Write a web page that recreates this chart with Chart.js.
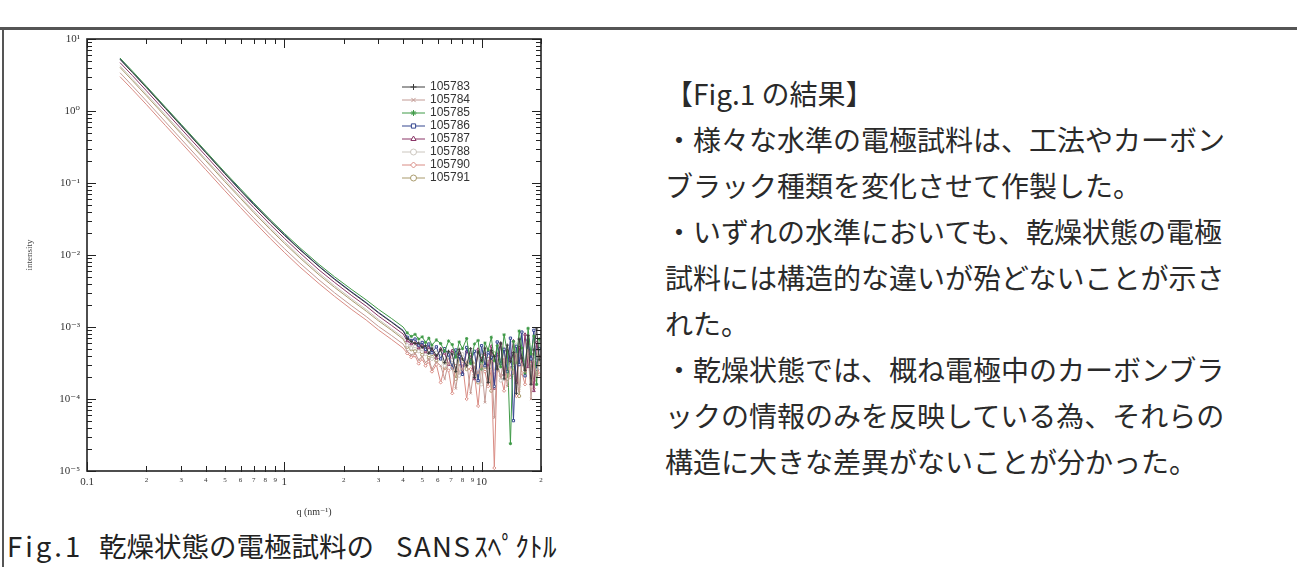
<!DOCTYPE html>
<html>
<head>
<meta charset="utf-8">
<script src="https://cdn.jsdelivr.net/npm/chart.js@4"></script>
<style>
  html, body { margin: 0; padding: 0; background: #fff; }
  body { width: 1297px; height: 567px; position: relative; overflow: hidden; }
  #topRule { position: absolute; left: 0; top: 27px; width: 1297px; height: 3px; background: #555; }
  #leftRule { position: absolute; left: 2px; top: 28px; width: 2px; height: 539px; background: #555; }
  #chartBox { position: absolute; left: 0; top: 0; width: 570px; height: 525px; }
  #notes { position: absolute; left: 665px; top: 70px; font-family: "Noto Sans CJK JP", sans-serif;
           font-size: 28px; line-height: 46px; color: #2a2a2a; white-space: pre; }
  #caption { position: absolute; left: 0; top: 527px; width: 600px; height: 36px;
             font-family: "Noto Sans CJK JP", sans-serif; font-size: 27.5px; line-height: 36px; color: #222; white-space: pre; }
  #caption span { position: absolute; top: 0; }
</style>
</head>
<body>
<div id="topRule"></div>
<div id="leftRule"></div>
<div id="chartBox"><canvas id="sans"></canvas></div>
<div id="notes"><div>【Fig.1 の結果】</div><div>・様々な水準の電極試料は、工法やカーボン</div><div>ブラック種類を変化させて作製した。</div><div>・いずれの水準においても、乾燥状態の電極</div><div>試料には構造的な違いが殆どないことが示さ</div><div>れた。</div><div>・乾燥状態では、概ね電極中のカーボンブラ</div><div>ックの情報のみを反映している為、それらの</div><div>構造に大きな差異がないことが分かった。</div></div>
<div id="caption"><span style="left:7px;letter-spacing:3px">Fig.1</span><span style="left:99px">乾燥状態の電極試料の</span><span style="left:396px;letter-spacing:1.5px">SANS</span><span style="left:474px">ｽﾍﾟｸﾄﾙ</span></div>
<script>
// q (nm^-1) shared by all runs
const qValues = [0.147, 0.17, 0.2, 0.25, 0.3, 0.4, 0.5, 0.6, 0.7, 0.85, 1.0, 1.2, 1.5, 1.8, 2.2, 2.6, 3.0, 3.5, 4.0,
  4.2, 4.4, 4.6, 4.8, 5.0, 5.2, 5.4, 5.6, 5.9, 6.2, 6.5, 6.8, 7.1, 7.4, 7.7, 8.0, 8.4, 8.8, 9.2, 9.6,
  10.0, 10.4, 10.8, 11.2, 11.6, 12.0, 12.5, 13.0, 13.5, 14.0, 14.5, 15.0, 15.5, 16.0, 16.6, 17.2, 17.8, 18.4, 19.0, 19.6];

const s105783 = [5.2, 3.41, 2.11, 1.08, 0.623, 0.263, 0.134, 0.078, 0.050, 0.0291, 0.0188, 0.0118, 0.0069, 0.00457, 0.0030, 0.00215, 0.00157, 0.00116, 0.00088,
  6.9e-4, 6.3e-4, 5.9e-4, 6.0e-4, 5.2e-4, 5.5e-4, 4.3e-4, 5.1e-4, 4.0e-4, 4.8e-4, 3.2e-4, 4.6e-4, 4.2e-4, 2.4e-4, 4.9e-4, 3.6e-4, 2.9e-4, 5.0e-4, 2.0e-4, 4.5e-4,
  3.4e-4, 5.1e-4, 1.7e-4, 4.7e-4, 3.9e-4, 2.6e-4, 6.0e-4, 1.9e-4, 5.6e-4, 3.3e-4, 4.4e-4, 1.2e-4, 6.8e-4, 3.7e-4, 2.5e-4, 7.6e-4, 1.6e-4, 4.8e-4, 9.4e-4, 3.5e-4];
const s105784 = [3.4, 2.23, 1.38, 0.704, 0.407, 0.172, 0.088, 0.051, 0.0328, 0.019, 0.0123, 0.0077, 0.0045, 0.00298, 0.00196, 0.0014, 0.00102, 0.00076, 0.00058,
  4.6e-4, 4.1e-4, 4.3e-4, 3.5e-4, 3.9e-4, 3.2e-4, 3.6e-4, 2.6e-4, 3.3e-4, 2.9e-4, 1.9e-4, 3.2e-4, 2.7e-4, 1.4e-4, 3.0e-4, 2.5e-4, 3.3e-4, 1.2e-4, 2.8e-4, 2.3e-4,
  3.0e-4, 0.9e-4, 2.7e-4, 3.4e-4, 0.55e-4, 2.9e-4, 2.0e-4, 3.6e-4, 1.5e-4, 2.8e-4, 2.2e-4, 4.2e-4, 1.3e-4, 3.1e-4, 2.4e-4, 4.8e-4, 1.0e-4, 3.3e-4, 2.1e-4, 3.9e-4];
const s105785 = [5.45, 3.58, 2.21, 1.13, 0.655, 0.276, 0.141, 0.083, 0.053, 0.0308, 0.020, 0.0126, 0.0074, 0.00497, 0.0033, 0.00238, 0.00176, 0.00131, 0.0010,
  8.3e-4, 7.4e-4, 7.9e-4, 6.8e-4, 7.3e-4, 6.1e-4, 7.0e-4, 5.6e-4, 6.6e-4, 5.9e-4, 4.6e-4, 6.4e-4, 5.7e-4, 3.8e-4, 6.2e-4, 5.0e-4, 6.9e-4, 3.1e-4, 5.8e-4, 6.5e-4,
  2.6e-4, 6.0e-4, 4.8e-4, 7.2e-4, 3.4e-4, 5.5e-4, 2.8e-4, 7.8e-4, 4.5e-4, 0.24e-4, 6.3e-4, 3.2e-4, 8.8e-4, 5.1e-4, 2.3e-4, 9.6e-4, 4.2e-4, 7.5e-4, 1.6e-4, 6.8e-4];
const s105786 = [5.3, 3.48, 2.15, 1.10, 0.636, 0.268, 0.137, 0.080, 0.0512, 0.0297, 0.0192, 0.0120, 0.0070, 0.00466, 0.00306, 0.00219, 0.0016, 0.00118, 0.0009,
  7.2e-4, 6.5e-4, 6.8e-4, 5.6e-4, 6.1e-4, 4.9e-4, 5.8e-4, 4.4e-4, 5.3e-4, 3.6e-4, 5.0e-4, 4.1e-4, 2.7e-4, 4.8e-4, 3.9e-4, 2.2e-4, 5.2e-4, 3.3e-4, 4.6e-4, 1.8e-4,
  5.5e-4, 2.9e-4, 4.4e-4, 3.8e-4, 1.5e-4, 6.2e-4, 3.1e-4, 4.9e-4, 2.4e-4, 7.0e-4, 0.5e-4, 5.4e-4, 3.0e-4, 8.5e-4, 2.1e-4, 6.6e-4, 3.6e-4, 9.0e-4, 2.6e-4, 5.0e-4];
const s105787 = [4.7, 3.1, 1.91, 0.98, 0.566, 0.239, 0.122, 0.071, 0.0456, 0.0264, 0.0171, 0.0107, 0.0062, 0.00415, 0.00272, 0.00195, 0.00142, 0.00105, 0.0008,
  6.4e-4, 5.8e-4, 6.0e-4, 5.1e-4, 5.6e-4, 4.5e-4, 5.2e-4, 4.8e-4, 3.7e-4, 5.0e-4, 4.3e-4, 3.0e-4, 4.7e-4, 3.9e-4, 4.4e-4, 2.3e-4, 4.6e-4, 3.8e-4, 1.9e-4, 4.9e-4,
  3.6e-4, 4.2e-4, 2.7e-4, 5.4e-4, 1.4e-4, 4.1e-4, 5.9e-4, 2.2e-4, 4.7e-4, 3.5e-4, 6.4e-4, 1.7e-4, 5.2e-4, 3.0e-4, 7.9e-4, 2.8e-4, 4.3e-4, 1.3e-4, 6.1e-4, 3.9e-4];
const s105788 = [4.24, 2.78, 1.72, 0.88, 0.509, 0.214, 0.110, 0.064, 0.041, 0.0238, 0.0154, 0.0096, 0.0056, 0.00373, 0.00245, 0.00175, 0.00128, 0.00094, 0.00072,
  5.6e-4, 5.1e-4, 5.4e-4, 4.6e-4, 4.9e-4, 4.2e-4, 4.7e-4, 3.6e-4, 4.4e-4, 3.9e-4, 2.9e-4, 4.3e-4, 3.5e-4, 4.0e-4, 2.1e-4, 4.2e-4, 3.3e-4, 3.8e-4, 2.5e-4, 4.4e-4,
  1.6e-4, 3.9e-4, 3.1e-4, 4.6e-4, 2.4e-4, 3.7e-4, 1.8e-4, 5.0e-4, 2.9e-4, 4.1e-4, 2.2e-4, 5.7e-4, 1.5e-4, 4.4e-4, 3.2e-4, 6.3e-4, 2.0e-4, 3.9e-4, 5.2e-4, 2.7e-4];
const s105790 = [3.0, 1.98, 1.23, 0.627, 0.363, 0.153, 0.078, 0.0456, 0.0292, 0.0169, 0.0109, 0.0068, 0.0040, 0.00266, 0.00174, 0.00125, 0.00091, 0.00067, 0.00051,
  4.3e-4, 3.8e-4, 4.0e-4, 3.1e-4, 3.6e-4, 2.9e-4, 3.3e-4, 2.4e-4, 3.0e-4, 1.7e-4, 2.8e-4, 2.5e-4, 1.2e-4, 2.9e-4, 2.3e-4, 3.1e-4, 1.0e-4, 2.6e-4, 2.2e-4, 0.8e-4,
  2.9e-4, 2.4e-4, 1.5e-4, 2.6e-4, 0.11e-4, 3.0e-4, 2.1e-4, 1.3e-4, 3.3e-4, 2.0e-4, 2.7e-4, 1.1e-4, 3.6e-4, 2.3e-4, 1.6e-4, 4.0e-4, 2.5e-4, 1.4e-4, 3.4e-4, 2.2e-4];
const s105791 = [4.03, 2.64, 1.63, 0.836, 0.483, 0.204, 0.104, 0.061, 0.0389, 0.0226, 0.0146, 0.0091, 0.0053, 0.00354, 0.00233, 0.00166, 0.00122, 0.0009, 0.00068,
  5.3e-4, 4.9e-4, 4.6e-4, 4.8e-4, 4.1e-4, 4.4e-4, 3.7e-4, 4.2e-4, 3.4e-4, 3.9e-4, 2.7e-4, 3.8e-4, 3.2e-4, 1.9e-4, 3.9e-4, 3.3e-4, 2.6e-4, 4.1e-4, 3.0e-4, 1.7e-4,
  4.0e-4, 2.8e-4, 3.6e-4, 1.3e-4, 4.3e-4, 2.5e-4, 3.4e-4, 4.8e-4, 1.9e-4, 3.8e-4, 2.9e-4, 5.3e-4, 1.1e-4, 4.0e-4, 2.6e-4, 5.9e-4, 3.1e-4, 1.8e-4, 4.6e-4, 3.0e-4];

const seriesNames = ["105783", "105784", "105785", "105786", "105787", "105788", "105790", "105791"];
const seriesValues = [s105783, s105784, s105785, s105786, s105787, s105788, s105790, s105791];
const seriesColors = ["#3c3c3c", "#c29a94", "#3f9a47", "#34468f", "#8a3567", "#cbc6be", "#d98c84", "#a99a6c"];
const seriesMarkers = ["cross", "crossRot", "star", "rect", "triangle", "circle", "rectRot", "circle"];

const xTicks = [0.1, 0.2, 0.3, 0.4, 0.5, 0.6, 0.7, 0.8, 0.9, 1, 2, 3, 4, 5, 6, 7, 8, 9, 10, 20];
const xTickLabels = ["0.1", "2", "3", "4", "5", "6", "7", "8", "9", "1", "2", "3", "4", "5", "6", "7", "8", "9", "10", "2"];
const yTicks = [1e-5, 1e-4, 1e-3, 1e-2, 1e-1, 1, 10];
const yTickLabels = ["10⁻⁵", "10⁻⁴", "10⁻³", "10⁻²", "10⁻¹", "10⁰", "10¹"];

const isDecade = v => Math.abs(Math.log10(v) - Math.round(Math.log10(v))) < 1e-9;
const serif = '"Liberation Serif", "DejaVu Serif", serif';

// inward tick marks on all four sides plus the frame
const boxTicks = {
  id: 'boxTicks',
  afterDraw(chart) {
    const { ctx, chartArea: a, scales: { x, y } } = chart;
    ctx.save();
    ctx.strokeStyle = '#222';
    ctx.lineWidth = 1;
    ctx.beginPath();
    xTicks.forEach(v => {
      const px = Math.round(x.getPixelForValue(v)) + 0.5;
      const len = isDecade(v) ? 9 : 5;
      ctx.moveTo(px, a.bottom + 1); ctx.lineTo(px, a.bottom - len);
      ctx.moveTo(px, a.top); ctx.lineTo(px, a.top + len);
    });
    for (let e = -5; e <= 1; e++) {
      for (let m = 1; m <= 9; m++) {
        const v = m * Math.pow(10, e);
        if (v > 10.0001) break;
        const py = Math.round(y.getPixelForValue(v)) + 0.5;
        const len = m === 1 ? 9 : 5;
        ctx.moveTo(a.left, py); ctx.lineTo(a.left + len, py);
        ctx.moveTo(a.right, py); ctx.lineTo(a.right - len, py);
      }
    }
    ctx.stroke();
    ctx.lineWidth = 1.6;
    ctx.strokeRect(a.left, a.top, a.right - a.left, a.bottom - a.top);
    ctx.restore();
  }
};

// legend drawn inside the plot, one column
const insideLegend = {
  id: 'insideLegend',
  afterDraw(chart) {
    const { ctx, chartArea: a } = chart;
    const x0 = a.left + 315, y0 = a.top + 48, step = 13;
    ctx.save();
    ctx.font = '12px "Liberation Sans", Arial, sans-serif';
    ctx.textBaseline = 'middle';
    chart.data.datasets.forEach((ds, i) => {
      const yy = y0 + i * step;
      ctx.strokeStyle = ds.borderColor;
      ctx.lineWidth = 1;
      ctx.beginPath(); ctx.moveTo(x0, yy); ctx.lineTo(x0 + 23, yy); ctx.stroke();
      ctx.fillStyle = '#fff';
      if (Chart.helpers && Chart.helpers.drawPoint) {
        Chart.helpers.drawPoint(ctx, { pointStyle: ds.pointStyle, radius: 3, borderWidth: 1, rotation: 0 }, x0 + 11.5, yy);
      }
      ctx.fillStyle = '#333';
      ctx.fillText(ds.label, x0 + 28, yy);
    });
    ctx.restore();
  }
};

const datasets = seriesNames.map((name, i) => ({
  label: name,
  data: qValues.map((q, j) => ({ x: q, y: seriesValues[i][j] })),
  borderColor: seriesColors[i],
  backgroundColor: seriesColors[i],
  pointBackgroundColor: '#fff',
  pointBorderColor: seriesColors[i],
  pointStyle: seriesMarkers[i],
  // markers only show where the data scatter (high q); the dense low-q part reads as a line
  pointRadius: c => (c.raw && c.raw.x > 4.1) ? 1.6 : 0,
  pointBorderWidth: 1,
  borderWidth: 1,
  tension: 0,
  fill: false
}));

new Chart(document.getElementById('sans'), {
  type: 'line',
  data: { datasets },
  options: {
    responsive: true,
    maintainAspectRatio: false,
    animation: false,
    layout: { padding: { top: 39, right: 29, left: 0, bottom: 0 } },
    plugins: { legend: { display: false }, tooltip: { enabled: false } },
    scales: {
      x: {
        type: 'logarithmic',
        min: 0.1,
        max: 20,
        grid: { display: false, drawTicks: false },
        border: { display: false },
        ticks: {
          autoSkip: false,
          maxRotation: 0,
          padding: 5,
          color: '#333',
          font: c => (c.tick && c.tick.major) ? { family: serif, size: 11 } : { family: serif, size: 7 },
          callback: (v, i) => xTickLabels[i]
        },
        title: { display: true, text: 'q (nm⁻¹)', color: '#333', font: { family: serif, size: 10 }, padding: { top: 0, bottom: 7 } },
        afterBuildTicks: s => { s.ticks = xTicks.map(v => ({ value: v, major: isDecade(v) })); },
        afterFit: s => { s.height = 54; }
      },
      y: {
        type: 'logarithmic',
        min: 1e-5,
        max: 10,
        grid: { display: false, drawTicks: false },
        border: { display: false },
        ticks: {
          autoSkip: false,
          padding: 7,
          color: '#333',
          font: { family: serif, size: 11 },
          callback: (v, i) => yTickLabels[i]
        },
        title: { display: true, text: 'intensity', color: '#444', font: { family: serif, size: 9 }, padding: { top: 24 } },
        afterBuildTicks: s => { s.ticks = yTicks.map(v => ({ value: v, major: true })); },
        afterFit: s => { s.width = 87; }
      }
    }
  },
  plugins: [boxTicks, insideLegend]
});
</script>
</body>
</html>
